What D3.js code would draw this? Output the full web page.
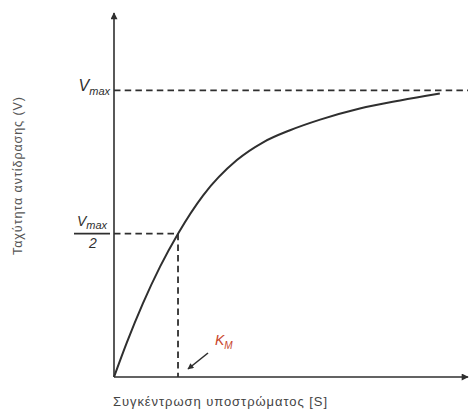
<!DOCTYPE html>
<html>
<head>
<meta charset="utf-8">
<script src="https://cdn.jsdelivr.net/npm/d3@7/dist/d3.min.js"></script>
<style>
  html, body { margin: 0; padding: 0; background: #fff; }
  svg { display: block; }
  text { font-family: "Liberation Sans", Arial, sans-serif; }
</style>
</head>
<body>
<svg id="chart" width="471" height="409"></svg>
<script>
// Substrate concentration [S] (in units of K_M) and reaction rate V (in units of Vmax)
const substrate = [0, 0.2, 0.45, 0.72, 1.0, 1.39, 1.92, 2.33, 2.75, 3.22, 3.84, 4.47, 5.09];
const rate      = [0, 0.12, 0.256, 0.385, 0.5, 0.633, 0.757, 0.819, 0.861, 0.898, 0.937, 0.965, 0.989];
const vMax = 1;
const kM = 1;
const axisRange = { s: [0, 5.53], v: [0, 1.27] };
const xTitle = "Συγκέντρωση υποστρώματος [S]";
const yTitle = "Ταχύτητα αντίδρασης (V)";

const svg = d3.select("#chart");
const ink = "#2f2f2f";

const x = d3.scaleLinear().domain(axisRange.s).range([114, 468]);
const y = d3.scaleLinear().domain(axisRange.v).range([377, 13]);

// arrow markers
const defs = svg.append("defs");
defs.append("marker")
  .attr("id", "axisHead").attr("viewBox", "0 0 10 10")
  .attr("refX", 9).attr("refY", 5)
  .attr("markerWidth", 9).attr("markerHeight", 7)
  .attr("markerUnits", "userSpaceOnUse")
  .attr("orient", "auto")
  .append("path").attr("d", "M0,0 L10,5 L0,10 Z").attr("fill", ink);
defs.append("marker")
  .attr("id", "pointerHead").attr("viewBox", "0 0 10 10")
  .attr("refX", 9).attr("refY", 5)
  .attr("markerWidth", 8).attr("markerHeight", 6)
  .attr("markerUnits", "userSpaceOnUse")
  .attr("orient", "auto")
  .append("path").attr("d", "M0,0 L10,5 L0,10 Z").attr("fill", ink);

// dashed guide lines
function dashed(x1, y1, x2, y2) {
  svg.append("line")
    .attr("x1", x1).attr("y1", y1).attr("x2", x2).attr("y2", y2)
    .attr("stroke", ink).attr("stroke-width", 1.8)
    .attr("stroke-dasharray", "6.5,4.2");
}
dashed(x(0), y(vMax), x.range()[1], y(vMax));
dashed(x(0), y(vMax / 2), x(kM), y(vMax / 2));
dashed(x(kM), y(vMax / 2), x(kM), y(0));

// axes
svg.append("line")
  .attr("x1", x(0)).attr("y1", y(0)).attr("x2", x(0)).attr("y2", y.range()[1])
  .attr("stroke", ink).attr("stroke-width", 1.6).attr("marker-end", "url(#axisHead)");
svg.append("line")
  .attr("x1", x(0)).attr("y1", y(0)).attr("x2", x.range()[1]).attr("y2", y(0))
  .attr("stroke", ink).attr("stroke-width", 1.6).attr("marker-end", "url(#axisHead)");

// saturation curve
const pts = substrate.map((s, i) => [s, rate[i]]);
svg.append("path")
  .datum(pts)
  .attr("fill", "none")
  .attr("stroke", ink)
  .attr("stroke-width", 2)
  .attr("d", d3.line().x(d => x(d[0])).y(d => y(d[1])).curve(d3.curveMonotoneX));

// Vmax label
const vmaxLabel = svg.append("text")
  .attr("x", x(0) - 4).attr("y", y(vMax) + 1)
  .attr("text-anchor", "end").attr("fill", ink).attr("font-style", "italic");
vmaxLabel.append("tspan").attr("font-size", 16).text("V");
vmaxLabel.append("tspan").attr("font-size", 11).attr("dy", 4).text("max");

// Vmax / 2 label (stacked fraction)
const fx = 93;
const frac = svg.append("text")
  .attr("x", fx - 1).attr("y", y(vMax / 2) - 8)
  .attr("text-anchor", "middle").attr("fill", ink).attr("font-style", "italic");
frac.append("tspan").attr("font-size", 14).text("V");
frac.append("tspan").attr("font-size", 11).attr("dy", 3).text("max");
svg.append("line")
  .attr("x1", fx - 19).attr("x2", fx + 17)
  .attr("y1", y(vMax / 2)).attr("y2", y(vMax / 2))
  .attr("stroke", ink).attr("stroke-width", 1.8);
svg.append("text")
  .attr("x", fx).attr("y", y(vMax / 2) + 14)
  .attr("text-anchor", "middle").attr("fill", ink)
  .attr("font-style", "italic").attr("font-size", 14).text("2");

// K_M label with pointer
const km = svg.append("text")
  .attr("x", 215).attr("y", 345)
  .attr("fill", "#c8452c").attr("font-style", "italic");
km.append("tspan").attr("font-size", 14).text("K");
km.append("tspan").attr("font-size", 10).attr("dy", 4).text("M");
svg.append("line")
  .attr("x1", 208).attr("y1", 353).attr("x2", x(kM) + 10).attr("y2", y(0) - 8)
  .attr("stroke", ink).attr("stroke-width", 1.6).attr("marker-end", "url(#pointerHead)");

// axis titles
svg.append("text")
  .attr("x", 113).attr("y", 406)
  .attr("font-size", 13).attr("fill", "#444")
  .attr("textLength", 214).attr("lengthAdjust", "spacing")
  .text(xTitle);
svg.append("text")
  .attr("transform", "translate(22,176) rotate(-90)")
  .attr("text-anchor", "middle")
  .attr("font-size", 12.5).attr("fill", "#555")
  .attr("textLength", 158).attr("lengthAdjust", "spacing")
  .text(yTitle);
</script>
</body>
</html>
